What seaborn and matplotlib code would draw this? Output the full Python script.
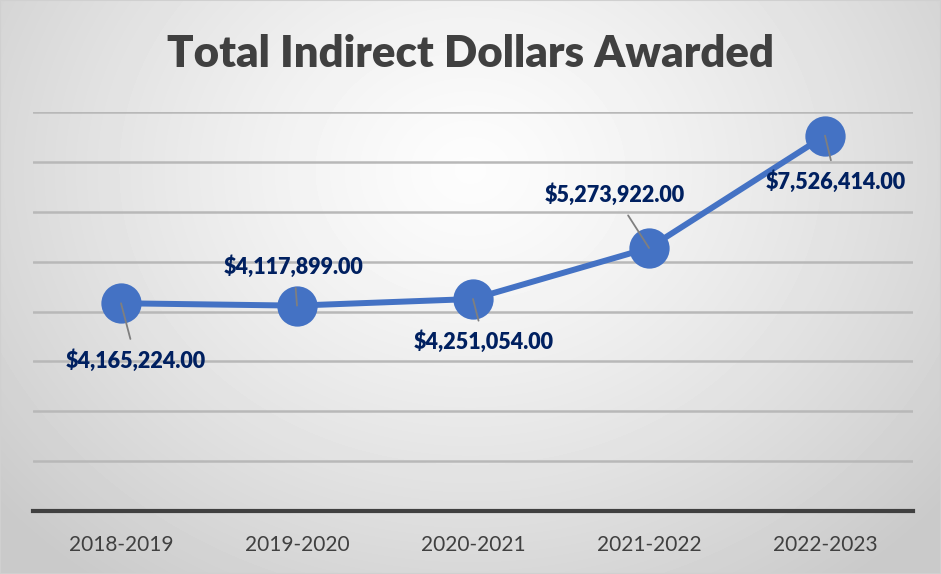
import numpy as np
import pandas as pd
import seaborn as sns
import matplotlib.pyplot as plt
from matplotlib.patches import Rectangle

# chart data
years = ["2018-2019", "2019-2020", "2020-2021", "2021-2022", "2022-2023"]
dollars = [4165224.00, 4117899.00, 4251054.00, 5273922.00, 7526414.00]

# where each data label sits, in pixels from its point (Excel's manual placement)
label_offsets = [(15, -57), (-3, 39), (11, -43), (-34, 53), (11, -46)]

df = pd.DataFrame({"year": years, "dollars": dollars})

sns.set_theme(style="white")
plt.rcParams["font.family"] = ["Lato", "DejaVu Sans"]

fig = plt.figure(figsize=(9.41, 5.74), dpi=100)

# radial grey gradient behind everything
bg = fig.add_axes([0, 0, 1, 1], zorder=-10)
yy, xx = np.mgrid[0:574, 0:941]
r = np.sqrt(((xx - 470) / 620) ** 2 + ((yy - 170) / 520) ** 2)
shade = 0.99 - 0.2 * np.clip(r, 0, 1) ** 1.3
bg.imshow(shade, cmap="gray", vmin=0, vmax=1, aspect="auto")
bg.axis("off")
fig.patches.append(Rectangle((0, 0), 1, 1, transform=fig.transFigure,
                             fill=False, ec="#d0d0d0", lw=1.5))

ax = fig.add_axes([33 / 941, 63 / 574, 880 / 941, 399 / 574])
ax.patch.set_alpha(0)

sns.lineplot(data=df, x="year", y="dollars", ax=ax, sort=False,
             color="#4472C4", linewidth=4.3, marker="o", markersize=29,
             markeredgewidth=0, zorder=3)

ax.set_ylim(0, 8000000)
ax.set_xlim(-0.5, 4.5)
ax.set_yticks(np.arange(1000000, 8000001, 1000000))
ax.yaxis.grid(True, color="#b8b8b8", linewidth=1.8)
ax.set_axisbelow(True)
ax.set_yticklabels([])
ax.tick_params(axis="y", length=0)
ax.tick_params(axis="x", length=0, pad=17, labelsize=15, labelcolor="#404040")
for s in ["top", "left", "right"]:
    ax.spines[s].set_visible(False)
ax.spines["bottom"].set_color("#404040")
ax.spines["bottom"].set_linewidth(3)
ax.set_xlabel("")
ax.set_ylabel("")

for i, (v, off) in enumerate(zip(dollars, label_offsets)):
    ax.annotate(f"${v:,.2f}", xy=(i, v), xytext=off, textcoords="offset pixels",
                ha="center", va="center", fontsize=15.5, fontweight="heavy",
                color="#002060", zorder=5,
                arrowprops=dict(arrowstyle="-", color="#7f7f7f", lw=1.3,
                                shrinkA=5, shrinkB=0))

fig.text(0.5, 1 - 54 / 574, "Total Indirect Dollars Awarded", ha="center",
         va="center", fontsize=31.5, fontweight="heavy", color="#404040")

fig.savefig("out.png", dpi=100)
